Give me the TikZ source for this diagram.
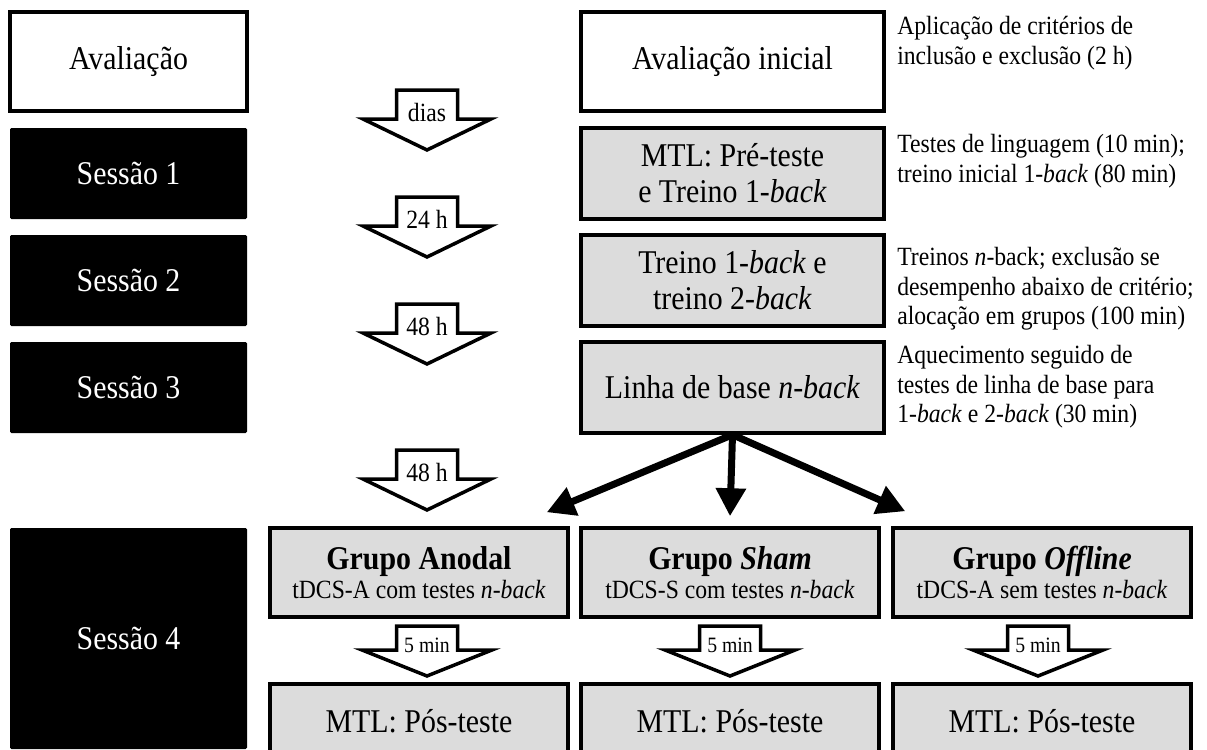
\documentclass[tikz,border=0pt]{standalone}
\usepackage{fontspec}
\setmainfont{Liberation Serif}[FakeStretch=0.9]
\usetikzlibrary{arrows.meta}
\definecolor{boxgray}{RGB}{220,220,220}
\newlength{\pxu}
\setlength{\pxu}{0.025cm}
\newcommand{\boxfont}{\fontsize{23.6pt}{25.6pt}\selectfont}
\newcommand{\notefont}{\fontsize{18.7pt}{21pt}\selectfont}
\newcommand{\minfont}{\fontsize{15.6pt}{17pt}\selectfont}
\newcommand{\gaparrow}[6]{%
  \draw[hollow] (#2-30.5,#3) -- (#2+30.5,#3) -- (#2+30.5,#3+#4) -- (#2+#5,#3+#4)
    -- (#2,#3+2*#4+2) -- (#2-#5,#3+#4) -- (#2-30.5,#3+#4) -- cycle;
  \node[gaplabel] (#1) at (#2,#3+#4+2) {#6};
}
\begin{document}
\begin{tikzpicture}[x=\pxu, y=-\pxu,
  session/.style={fill=black, text=white, rounded corners=1pt, inner sep=0,
    minimum width=237\pxu, minimum height=91\pxu, font=\boxfont},
  stage/.style={draw, line width=3.5\pxu, fill=boxgray, align=center, inner sep=0,
    minimum width=303\pxu, minimum height=91\pxu, font=\boxfont},
  group/.style={stage, minimum width=298\pxu, minimum height=89\pxu, font=\notefont},
  note/.style={anchor=north west, inner sep=0, align=left, font=\notefont},
  hollow/.style={draw, fill=white, line width=3.5\pxu, line join=miter},
  gaplabel/.style={anchor=base, inner sep=0, font=\notefont},
  fan/.style={line width=7\pxu, -{Triangle[length=0.7cm, width=0.72cm]}}]
  \useasboundingbox (0,0) rectangle (1207,749);
  \clip (0,0) rectangle (1207,749);

  \node[stage, fill=white, minimum width=237\pxu, minimum height=99\pxu] (aval) at (128.5,61.5) {Avaliação};
  \node[session] (s1) at (128.5,173.5) {Sessão 1};
  \node[session] (s2) at (128.5,280.5) {Sessão 2};
  \node[session] (s3) at (128.5,387.5) {Sessão 3};
  \node[session, minimum height=221\pxu] (s4) at (128.5,638.5) {Sessão 4};

  \node[stage, fill=white, minimum height=99\pxu] (inicial) at (732.5,61.5) {Avaliação inicial};
  \node[stage] (pre) at (732.5,173.5) {MTL: Pré-teste\\e Treino 1-\textit{back}};
  \node[stage] (treino) at (732.5,280.5) {Treino 1-\textit{back} e\\treino 2-\textit{back}};
  \node[stage] (linha) at (732.5,387.5) {Linha de base \textit{n-back}};

  \node[note] (n1) at (897,16) {Aplicação de critérios de\\inclusão e exclusão (2 h)};
  \node[note] (n2) at (897,134) {Testes de linguagem (10 min);\\treino inicial 1-\textit{back} (80 min)};
  \node[note] (n3) at (897,247) {Treinos \textit{n}-back; exclusão se\\desempenho abaixo de critério;\\alocação em grupos (100 min)};
  \node[note] (n4) at (897,345) {Aquecimento seguido de\\testes de linha de base para\\1-\textit{back} e 2-\textit{back} (30 min)};

  \node[group] (anodal) at (419,572.5) {{\boxfont\bfseries Grupo Anodal}\\tDCS-A com testes \textit{n-back}};
  \node[group] (sham) at (730,572.5) {{\boxfont\bfseries Grupo \textit{Sham}}\\tDCS-S com testes \textit{n-back}};
  \node[group] (offline) at (1042,572.5) {{\boxfont\bfseries Grupo \textit{Offline}}\\tDCS-A sem testes \textit{n-back}};

  \node[group, minimum height=74\pxu, font=\boxfont] (posa) at (419,721) {MTL: Pós-teste};
  \node[group, minimum height=74\pxu, font=\boxfont] (poss) at (730,721) {MTL: Pós-teste};
  \node[group, minimum height=74\pxu, font=\boxfont] (poso) at (1042,721) {MTL: Pós-teste};

  \gaparrow{g1}{427}{90}{29}{64}{dias}
  \gaparrow{g2}{427}{197}{29}{64}{24 h}
  \gaparrow{g3}{427}{304}{29}{64}{48 h}
  \gaparrow{g4}{427}{450}{29}{64}{48 h}
  \gaparrow{m1}{427}{626}{24}{65}{\minfont 5 min}
  \gaparrow{m2}{730}{626}{24}{65}{\minfont 5 min}
  \gaparrow{m3}{1038}{626}{24}{65}{\minfont 5 min}

  \draw[fan] (linha.south) -- ([shift={(-23,-14)}]anodal.north east);
  \draw[fan] (linha.south) -- ([yshift=10\pxu]sham.north);
  \draw[fan] (linha.south) -- ([shift={(14,-15)}]offline.north west);
\end{tikzpicture}
\end{document}
